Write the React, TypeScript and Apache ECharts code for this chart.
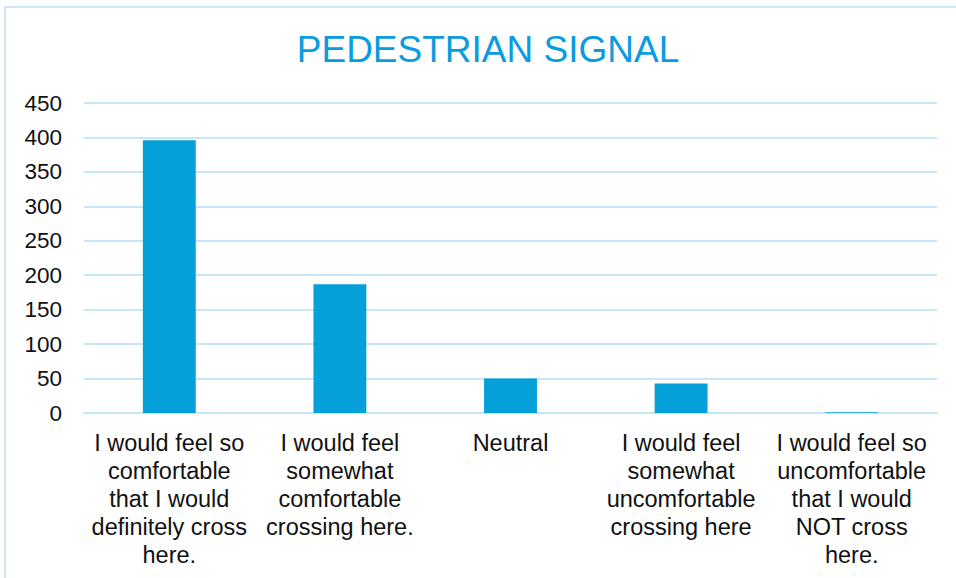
import React, { useEffect, useRef } from "react";
import * as echarts from "echarts";

const titleText = "PEDESTRIAN SIGNAL";
const categories = [
  "I would feel so\ncomfortable\nthat I would\ndefinitely cross\nhere.",
  "I would feel\nsomewhat\ncomfortable\ncrossing here.",
  "Neutral",
  "I would feel\nsomewhat\nuncomfortable\ncrossing here",
  "I would feel so\nuncomfortable\nthat I would\nNOT cross\nhere.",
];
const values = [396, 187, 50, 43, 1];
const yMin = 0;
const yMax = 450;
const yInterval = 50;

export default function App() {
  const ref = useRef<HTMLDivElement>(null);
  useEffect(() => {
    if (!ref.current) return;
    const chart = echarts.init(ref.current, null, { renderer: "svg" });
    const font = "Liberation Sans, Arial, sans-serif";
    chart.setOption({
      animation: false,
      backgroundColor: "#ffffff",
      title: {
        text: titleText,
        left: 483,
        textAlign: "center",
        top: 26,
        textStyle: {
          color: "#0a9be0",
          fontSize: 37,
          fontWeight: "normal",
          fontFamily: font,
        },
      },
      graphic: [
        {
          type: "rect",
          shape: { x: 5, y: 7, width: 1200, height: 1200 },
          style: { fill: "none", stroke: "#c9e8f8", lineWidth: 2 },
          silent: true,
        },
      ],
      grid: { left: 84, right: 19, top: 103, bottom: 165, containLabel: false },
      xAxis: {
        type: "category",
        data: categories,
        axisLine: { show: true, lineStyle: { color: "#c6e7f8", width: 2 } },
        axisTick: { show: false },
        axisLabel: {
          interval: 0,
          color: "#111111",
          fontSize: 23.5,
          fontFamily: font,
          lineHeight: 28,
          margin: 16,
          align: "center",
        },
      },
      yAxis: {
        type: "value",
        min: yMin,
        max: yMax,
        interval: yInterval,
        axisLine: { show: false },
        axisTick: { show: false },
        splitLine: { lineStyle: { color: "#c6e7f8", width: 2 } },
        axisLabel: {
          color: "#111111",
          fontSize: 22.5,
          fontFamily: font,
          margin: 22,
        },
      },
      series: [
        {
          type: "bar",
          data: values,
          barWidth: "31%",
          itemStyle: { color: "#059fd9" },
        },
      ],
    });
    return () => chart.dispose();
  }, []);
  return (
    <div
      ref={ref}
      style={{ position: "fixed", left: 0, top: 0, width: 956, height: 578 }}
    />
  );
}
